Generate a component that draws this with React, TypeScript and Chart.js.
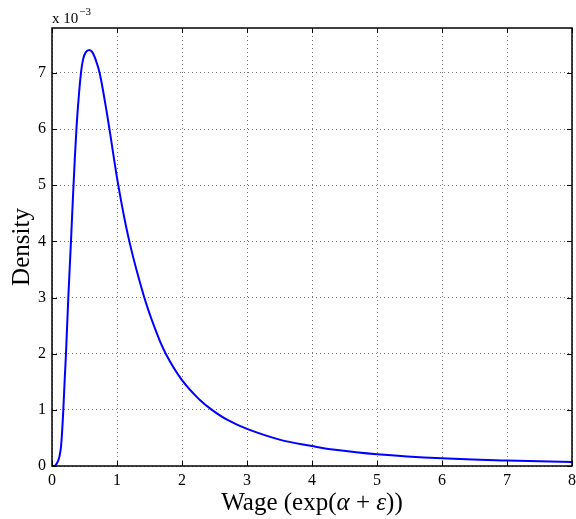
import React, { useEffect, useRef } from "react";
import { Chart, registerables } from "chart.js";

Chart.register(...registerables);

// Wage values (x) and density values (y, in units of 1e-3)
const wage: number[] = [
  0, 0.04, 0.06, 0.097, 0.12, 0.138, 0.155, 0.174, 0.195, 0.215, 0.251, 0.292,
  0.331, 0.376, 0.41, 0.446, 0.48, 0.52, 0.574, 0.62, 0.67, 0.733, 0.81, 0.884,
  1.02, 1.19, 1.42, 1.6, 1.75, 2.0, 2.28, 2.46, 2.7, 3.0, 3.5, 4.0, 4.28, 5.0, 6.0,
  7.0, 8.0,
];
const density: number[] = [
  0, 0, 0.02, 0.1, 0.2, 0.34, 0.6, 1.0, 1.53, 2.0, 3.0, 4.0,
  5.0, 6.0, 6.55, 7.0, 7.25, 7.37, 7.41, 7.37, 7.24, 7.0, 6.52, 6.0,
  5.0, 4.0, 3.0, 2.4, 2.0, 1.53, 1.17, 1.0, 0.82, 0.66, 0.47, 0.355, 0.3, 0.21, 0.137,
  0.097, 0.072,
];
const xTicks: number[] = [0, 1, 2, 3, 4, 5, 6, 7, 8];
const yTicks: number[] = [0, 1, 2, 3, 4, 5, 6, 7];

const SERIF = "'Liberation Serif', 'DejaVu Serif', serif";

const framePlugin = {
  id: "matlabFrame",
  afterDraw(chart: any) {
    const { ctx, chartArea } = chart;
    const { left, right, top, bottom } = chartArea;
    const xs = chart.scales.x;
    const ys = chart.scales.y;
    ctx.save();
    ctx.strokeStyle = "#000";
    ctx.lineWidth = 1;
    ctx.setLineDash([]);
    ctx.beginPath();
    // inward ticks
    xTicks.forEach((v) => {
      const px = Math.round(xs.getPixelForValue(v)) + 0.5;
      ctx.moveTo(px, bottom);
      ctx.lineTo(px, bottom - 5);
      ctx.moveTo(px, top);
      ctx.lineTo(px, top + 5);
    });
    yTicks.forEach((v) => {
      const py = Math.round(ys.getPixelForValue(v)) + 0.5;
      ctx.moveTo(left, py);
      ctx.lineTo(left + 5, py);
      ctx.moveTo(right, py);
      ctx.lineTo(right - 5, py);
    });
    ctx.stroke();
    ctx.lineWidth = 1.5;
    ctx.strokeRect(left, top, right - left, bottom - top);

    // x label with math
    ctx.fillStyle = "#000";
    ctx.textBaseline = "alphabetic";
    const parts: [string, string][] = [
      ["Wage (exp(", `25px ${SERIF}`],
      ["α", `italic 25px ${SERIF}`],
      [" + ", `25px ${SERIF}`],
      ["ε", `italic 25px ${SERIF}`],
      ["))", `25px ${SERIF}`],
    ];
    let total = 0;
    parts.forEach(([t, f]) => {
      ctx.font = f;
      total += ctx.measureText(t).width;
    });
    let x = (left + right) / 2 - total / 2;
    parts.forEach(([t, f]) => {
      ctx.font = f;
      ctx.fillText(t, x, 510);
      x += ctx.measureText(t).width;
    });

    // y label
    ctx.save();
    ctx.translate(29, (top + bottom) / 2);
    ctx.rotate(-Math.PI / 2);
    ctx.font = `25px ${SERIF}`;
    ctx.textAlign = "center";
    ctx.fillText("Density", 0, 0);
    ctx.restore();

    // exponent
    ctx.textAlign = "left";
    ctx.font = `15px ${SERIF}`;
    ctx.fillText("x 10", left, 23);
    const w = ctx.measureText("x 10").width;
    ctx.font = `11px ${SERIF}`;
    ctx.fillText("−3", left + w + 1, 15);
    ctx.restore();
  },
};

export default function App() {
  const ref = useRef<HTMLCanvasElement>(null);
  useEffect(() => {
    if (!ref.current) return;
    const chart = new Chart(ref.current, {
      type: "line",
      data: {
        datasets: [
          {
            data: wage.map((w, i) => ({ x: w, y: density[i] })),
            borderColor: "#0000ff",
            borderWidth: 2,
            pointRadius: 0,
            fill: false,
            tension: 0.4,
          },
        ],
      },
      options: {
        responsive: false,
        animation: false,
        layout: { padding: { top: 28, right: 4, left: 0, bottom: 0 } },
        plugins: { legend: { display: false }, tooltip: { enabled: false } },
        scales: {
          x: {
            type: "linear",
            min: 0,
            max: 8,
            afterFit: (s: any) => {
              s.height = 53;
              s.paddingLeft = 0;
              s.paddingRight = 0;
            },
            afterBuildTicks: (s: any) => {
              s.ticks = xTicks.map((v) => ({ value: v }));
            },
            ticks: {
              color: "#000",
              font: { family: SERIF, size: 16 },
              padding: 5,
              maxRotation: 0,
            },
            grid: {
              color: "rgba(0,0,0,0.55)",
              drawTicks: false,
              lineWidth: 1,
            },
            border: { display: false, dash: [1, 3] },
          },
          y: {
            type: "linear",
            min: 0,
            max: 7.8,
            afterFit: (s: any) => {
              s.width = 52;
              s.paddingTop = 0;
              s.paddingBottom = 0;
            },
            afterBuildTicks: (s: any) => {
              s.ticks = yTicks.map((v) => ({ value: v }));
            },
            ticks: {
              color: "#000",
              font: { family: SERIF, size: 16 },
              padding: 6,
            },
            grid: {
              color: "rgba(0,0,0,0.55)",
              drawTicks: false,
              lineWidth: 1,
            },
            border: { display: false, dash: [1, 3] },
          },
        },
      },
      plugins: [framePlugin],
    });
    return () => chart.destroy();
  }, []);
  return (
    <div style={{ position: "fixed", left: 0, top: 0, width: 576, height: 519, background: "#fff" }}>
      <canvas ref={ref} width={576} height={519} style={{ width: 576, height: 519 }} />
    </div>
  );
}
